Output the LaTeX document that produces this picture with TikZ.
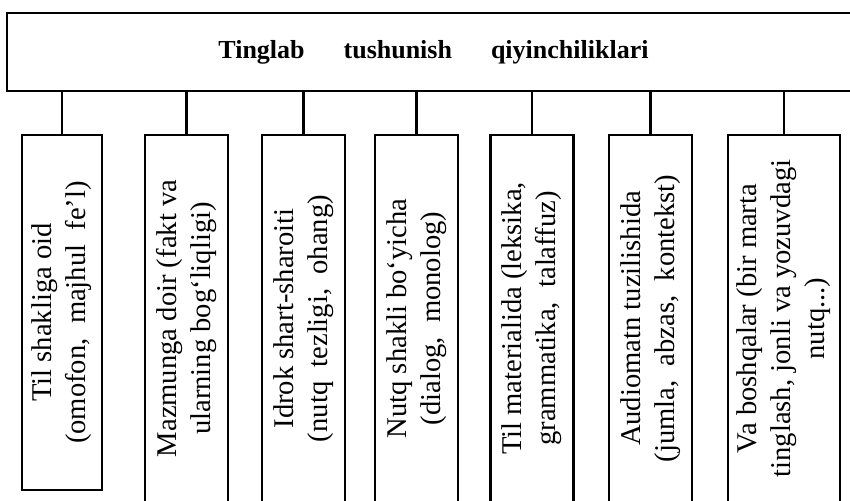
\documentclass[tikz,border=0pt]{standalone}
\usepackage{fontspec}
\setmainfont{Liberation Serif}
\usetikzlibrary{positioning}
\tikzset{
  sarlavha/.style={
    rectangle,
    draw, line width=1.4pt,
    minimum width=426.5pt,
    minimum height=39pt,
    inner sep=0pt,
    font=\fontsize{13}{15}\selectfont\bfseries},
  qiyinchilik/.style={
    rectangle,
    draw, line width=1.4pt,
    rotate=90,
    align=center,
    inner sep=0pt,
    minimum width=183.5pt,
    minimum height=41.5pt,
    font=\fontsize{14.3}{17}\selectfont},
  stem/.style={draw, line width=1.4pt},
}

\begin{document}
\begin{tikzpicture}
  [x=0.5pt, y=-0.5pt]
  \useasboundingbox (0,0) rectangle (850,501);
     \node[sarlavha] (Tinglab) at (433.5,52)
       {Tinglab\hspace{1.5em}tushunish\hspace{1.5em}qiyinchiliklari};
  %% the seven kinds of difficulty, left to right
     \node[qiyinchilik, minimum width=177.5pt, minimum height=40pt]
       (TilShakli) at (62,312.5)
       {Til shakliga oid\\(omofon,\ \ majhul\ \ fe'l)};
     \node[qiyinchilik] (Mazmun) at (186.5,318.5)
       {Mazmunga doir (fakt va\\ularning bog`liqligi)};
     \node[qiyinchilik] (Idrok) at (303.5,318.5)
       {Idrok shart-sharoiti\\(nutq\ \ tezligi,\ \ ohang)};
     \node[qiyinchilik] (NutqShakli) at (416.5,318.5)
       {Nutq shakli bo`yicha\\(dialog,\ \ monolog)};
     \node[qiyinchilik] (TilMateriali) at (532,318.5)
       {Til materialida (leksika,\\grammatika,\ \ talaffuz)};
     \node[qiyinchilik] (Audiomatn) at (650.5,318.5)
       {Audiomatn tuzilishida\\(jumla,\ \ abzas,\ \ kontekst)};
     \node[qiyinchilik, minimum height=56pt] (Boshqalar) at (784,318.5)
       {Va boshqalar (bir marta\\tinglash, jonli va yozuvdagi\\nutq...)};
  % stems from the heading down to each box
     \foreach \kind in {TilShakli,Mazmun,Idrok,NutqShakli,TilMateriali,Audiomatn,Boshqalar}
       \path[stem] (Tinglab.south -| \kind.east) -- (\kind.east);
\end{tikzpicture}
\end{document}
